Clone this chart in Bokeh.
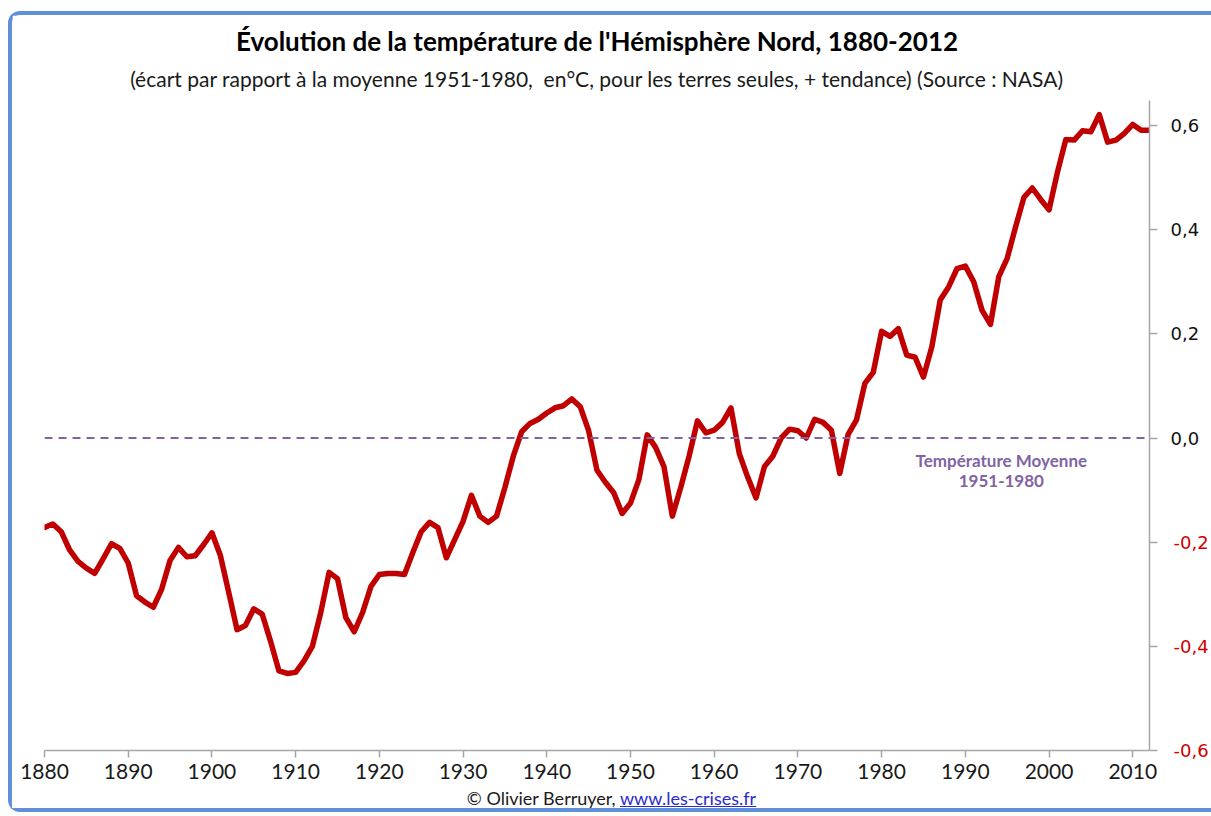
from bokeh.plotting import figure
from bokeh.models import (ColumnDataSource, Span, Label, FixedTicker, Range1d,
                          LinearAxis, Title, Div)
from bokeh.layouts import column
from bokeh.embed import file_html
from bokeh.resources import INLINE

# ---------------- data ----------------
years = list(range(1880, 2013))
anomaly = [
    -0.172, -0.165, -0.180, -0.215, -0.237, -0.250, -0.260, -0.232, -0.203, -0.212,  # 1880s
    -0.240, -0.303, -0.315, -0.325, -0.290, -0.235, -0.210, -0.228, -0.226, -0.205,  # 1890s
    -0.182, -0.225, -0.296, -0.368, -0.360, -0.328, -0.338, -0.390, -0.447, -0.452,  # 1900s
    -0.450, -0.428, -0.400, -0.335, -0.258, -0.270, -0.345, -0.372, -0.335, -0.285,  # 1910s
    -0.262, -0.260, -0.260, -0.262, -0.220, -0.180, -0.162, -0.172, -0.230, -0.195,  # 1920s
    -0.160, -0.110, -0.150, -0.162, -0.150, -0.095, -0.035, 0.012, 0.028, 0.036,     # 1930s
    0.048, 0.058, 0.062, 0.075, 0.060, 0.014, -0.062, -0.085, -0.105, -0.145,        # 1940s
    -0.125, -0.080, 0.006, -0.018, -0.055, -0.150, -0.095, -0.035, 0.033, 0.010,     # 1950s
    0.015, 0.030, 0.058, -0.030, -0.075, -0.115, -0.055, -0.035, 0.000, 0.017,       # 1960s
    0.014, 0.000, 0.036, 0.030, 0.015, -0.068, 0.007, 0.035, 0.105, 0.126,           # 1970s
    0.205, 0.195, 0.210, 0.159, 0.155, 0.117, 0.175, 0.265, 0.290, 0.325,            # 1980s
    0.330, 0.300, 0.245, 0.218, 0.310, 0.345, 0.405, 0.462, 0.480, 0.458,            # 1990s
    0.438, 0.510, 0.573, 0.572, 0.590, 0.588, 0.621, 0.568, 0.572, 0.585,            # 2000s
    0.602, 0.591, 0.591,                                                             # 2010-2012
]
x_ticks = list(range(1880, 2011, 10))
y_ticks = [-0.6, -0.4, -0.2, 0.0, 0.2, 0.4, 0.6]
baseline_value = 0.0
baseline_label = ["Température Moyenne", "1951-1980"]

title_text = "Évolution de la température de l'Hémisphère Nord, 1880-2012"
subtitle_text = ("(écart par rapport à la moyenne 1951-1980,\u00a0 en°C, pour les terres seules, "
                 "+ tendance) (Source : NASA)")
credit_text = "© Olivier Berruyer, "
url_text = "www.les-crises.fr"


def fmt(v):
    return f"{v:.1f}".replace(".", ",")


# ---------------- figure ----------------
p = figure(width=1199, height=773, output_backend="svg", toolbar_location=None,
           x_range=Range1d(1880, 2012), y_range=Range1d(-0.6, 0.648),
           y_axis_location="right", title=None,
           min_border_left=32, min_border_right=58, min_border_top=85,
           min_border_bottom=38)
p.outline_line_color = None
p.grid.visible = False
p.background_fill_color = "white"
p.border_fill_color = "white"

# titles
p.add_layout(Title(text=subtitle_text, align="center", offset=5, standoff=16,
                   vertical_align="top",
                   text_font="Lato", text_font_size="21px", text_font_style="normal",
                   text_color="#1a1a1a"), "above")
p.add_layout(Title(text=title_text, align="center", offset=5, standoff=2,
                   text_font="Lato", text_font_size="26px", text_font_style="bold",
                   text_color="#000000"), "above")

# x axis
xa = p.xaxis[0]
xa.ticker = FixedTicker(ticks=x_ticks)
xa.minor_tick_line_color = None
xa.major_tick_in = 0
xa.major_tick_out = 7
xa.axis_line_color = "#a6a6a6"
xa.axis_line_width = 1.5
xa.major_tick_line_color = "#a6a6a6"
xa.major_tick_line_width = 1.5
xa.major_label_text_font = "Lato"
xa.major_label_text_font_size = "21px"
xa.major_label_text_color = "#1a1a1a"
xa.major_label_standoff = 6

# y axis (right) : line, ticks and non-negative labels in black
ya = p.yaxis[0]
ya.ticker = FixedTicker(ticks=y_ticks)
ya.minor_tick_line_color = None
ya.major_tick_in = 0
ya.major_tick_out = 8
ya.axis_line_color = "#a6a6a6"
ya.axis_line_width = 1.5
ya.major_tick_line_color = "#a6a6a6"
ya.major_tick_line_width = 1.5
ya.major_label_text_font = "DejaVu Sans"
ya.major_label_text_font_size = "18px"
ya.major_label_text_color = "#111111"
ya.major_label_standoff = 13
ya.major_label_overrides = {t: (fmt(t) if t >= 0 else "") for t in y_ticks}

# second right axis carrying the negative labels in red, pulled back under the first
ya_neg = LinearAxis(ticker=FixedTicker(ticks=y_ticks),
                    major_label_overrides={t: (fmt(t) if t < 0 else "") for t in y_ticks},
                    axis_line_color=None, major_tick_line_color=None,
                    minor_tick_line_color=None, major_tick_in=0, major_tick_out=0,
                    minor_tick_in=0, minor_tick_out=0,
                    major_label_standoff=-29,
                    major_label_text_font="DejaVu Sans", major_label_text_font_size="18px",
                    major_label_text_color="#d00000")
p.add_layout(ya_neg, "right")

# baseline
p.add_layout(Span(location=baseline_value, dimension="width", line_color="#8064a2",
                  line_width=2, line_dash="8 6"))

# temperature curve
src = ColumnDataSource(dict(year=years, anomaly=anomaly))
p.line("year", "anomaly", source=src, line_color="#c00000", line_width=5.5,
       line_join="round", line_cap="round")

# baseline annotation
p.add_layout(Label(x=1994.3, y=-0.044, text=baseline_label[0], text_align="center",
                   text_baseline="middle", text_font="Lato", text_font_style="bold",
                   text_font_size="17px", text_color="#8064a2"))
p.add_layout(Label(x=1994.3, y=-0.083, text=baseline_label[1], text_align="center",
                   text_baseline="middle", text_font="Lato", text_font_style="bold",
                   text_font_size="17px", text_color="#8064a2"))

# credit line
footer = Div(
    text=(f'<div style="width:1182px; padding-left:17px; margin:0; text-align:center; '
          f'font-family:Lato; font-size:18px; color:#1a1a1a; line-height:20px;">'
          f'{credit_text}<a href="http://www.les-crises.fr" style="color:#2a2ad0; '
          f'text-decoration:underline;">{url_text}</a></div>'),
    width=1199, height=20,
    styles={"background-color": "white", "height": "20px", "overflow": "hidden",
            "padding": "0", "margin": "0"})

inner = column(p, footer, spacing=0,
               styles={"border-left": "4px solid #6090d8",
                       "border-top": "4px solid #6090d8",
                       "border-bottom": "4px solid #6090d8",
                       "border-top-left-radius": "12px",
                       "border-bottom-left-radius": "12px",
                       "background-color": "white"})
outer = column(inner, spacing=0,
               styles={"padding-left": "8px", "padding-top": "11px",
                       "background-color": "white"})

open("out.html", "w").write(file_html(outer, INLINE))
